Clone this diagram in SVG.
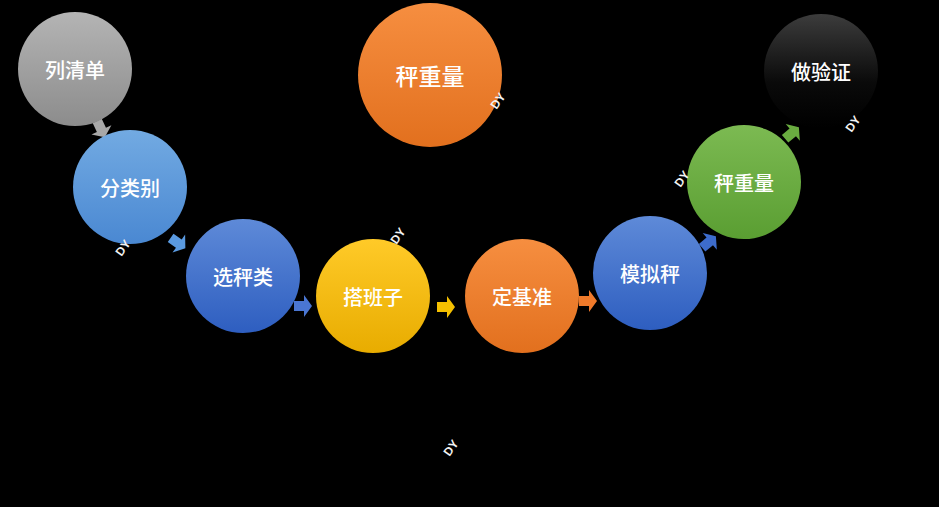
<svg xmlns="http://www.w3.org/2000/svg" width="939" height="507" viewBox="0 0 939 507">
<defs>
<linearGradient id="gGray" x1="0" y1="0" x2="0" y2="1"><stop offset="0" stop-color="#b4b4b4"/><stop offset="1" stop-color="#8c8c8c"/></linearGradient>
<linearGradient id="gLBlue" x1="0" y1="0" x2="0" y2="1"><stop offset="0" stop-color="#72aae2"/><stop offset="1" stop-color="#4a88d2"/></linearGradient>
<linearGradient id="gBlue" x1="0" y1="0" x2="0" y2="1"><stop offset="0" stop-color="#5e8ad8"/><stop offset="1" stop-color="#2e5ec0"/></linearGradient>
<linearGradient id="gYellow" x1="0" y1="0" x2="0" y2="1"><stop offset="0" stop-color="#ffca28"/><stop offset="1" stop-color="#e8ac00"/></linearGradient>
<linearGradient id="gOrange" x1="0" y1="0" x2="0" y2="1"><stop offset="0" stop-color="#f68e40"/><stop offset="1" stop-color="#e2701e"/></linearGradient>
<linearGradient id="gGreen" x1="0" y1="0" x2="0" y2="1"><stop offset="0" stop-color="#7cba52"/><stop offset="1" stop-color="#5a9e32"/></linearGradient>
<linearGradient id="gBlack" x1="0" y1="0" x2="0" y2="1"><stop offset="0" stop-color="#3c3c3c"/><stop offset="0.6" stop-color="#0a0a0a"/><stop offset="1" stop-color="#000000"/></linearGradient>
<path id="arr" d="M-9,-5 H1 V-11 L9,0 L1,11 V5 H-9 Z"/>
</defs>
<style>
.lbl{font-family:"Noto Sans CJK SC","Liberation Sans",sans-serif;font-size:20px;font-weight:500;fill:#ffffff;text-anchor:middle;dominant-baseline:central}
.big{font-size:23px}
.wm{font-family:"Liberation Sans","DejaVu Sans",sans-serif;font-size:12px;font-weight:bold;fill:#f2f2f2;text-anchor:middle;dominant-baseline:central}
</style>
<rect width="939" height="507" fill="#000000"/>
<g id="connectors">
<use href="#arr" transform="translate(101,129) rotate(65)" fill="#a8a8a8"/>
<use href="#arr" transform="translate(178,243) rotate(35)" fill="#5a9ae0"/>
<use href="#arr" transform="translate(303,306)" fill="#4a76d2"/>
<use href="#arr" transform="translate(446,307)" fill="#f5c000"/>
<use href="#arr" transform="translate(588,301)" fill="#f07a2a"/>
<use href="#arr" transform="translate(709,242) rotate(-40)" fill="#3d6ccc"/>
<use href="#arr" transform="translate(792,133) rotate(-40)" fill="#6aac40"/>
</g>
<g id="n1"><circle cx="75" cy="69" r="57" fill="url(#gGray)"/><text class="lbl" x="75" y="69">列清单</text></g>
<g id="n2"><circle cx="130" cy="187" r="57" fill="url(#gLBlue)"/><text class="lbl" x="130" y="187">分类别</text></g>
<g id="n3"><circle cx="243" cy="276" r="57" fill="url(#gBlue)"/><text class="lbl" x="243" y="276">选秤类</text></g>
<g id="n4"><circle cx="373" cy="296" r="57" fill="url(#gYellow)"/><text class="lbl" x="373" y="296">搭班子</text></g>
<g id="n5"><circle cx="522" cy="296" r="57" fill="url(#gOrange)"/><text class="lbl" x="522" y="296">定基准</text></g>
<g id="n6"><circle cx="650" cy="273" r="57" fill="url(#gBlue)"/><text class="lbl" x="650" y="273">模拟秤</text></g>
<g id="n7"><circle cx="744" cy="182" r="57" fill="url(#gGreen)"/><text class="lbl" x="744" y="182">秤重量</text></g>
<g id="n8"><circle cx="821" cy="71" r="57" fill="url(#gBlack)"/><text class="lbl" x="821" y="71">做验证</text></g>
<g id="n9"><circle cx="430" cy="75" r="72" fill="url(#gOrange)"/><text class="lbl big" x="430" y="75">秤重量</text></g>
<g id="watermarks">
<text class="wm" transform="translate(498,101) rotate(-55)">DY</text>
<text class="wm" transform="translate(123,248) rotate(-55)">DY</text>
<text class="wm" transform="translate(398,236) rotate(-55)">DY</text>
<text class="wm" transform="translate(682,179) rotate(-55)">DY</text>
<text class="wm" transform="translate(853,124) rotate(-55)">DY</text>
<text class="wm" transform="translate(451,448) rotate(-55)">DY</text>
</g>
</svg>
